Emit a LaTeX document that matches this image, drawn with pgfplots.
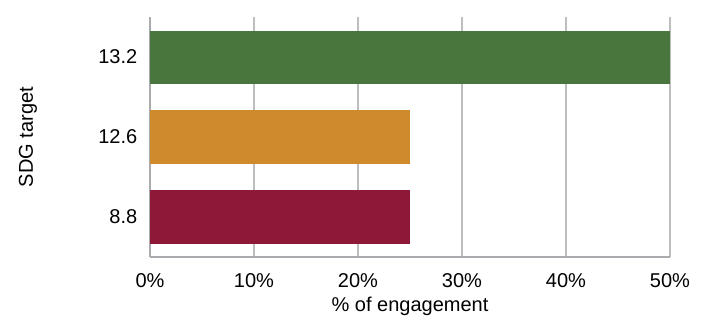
\documentclass[border=0pt]{standalone}
\usepackage{fontspec}
\setmainfont{Liberation Sans}
\usepackage{pgfplots}
\pgfplotsset{compat=1.18}
\definecolor{cgreen}{RGB}{72,118,60}
\definecolor{corange}{RGB}{207,139,43}
\definecolor{cmaroon}{RGB}{141,24,55}
\definecolor{cgrid}{RGB}{190,190,190}
\definecolor{caxis}{RGB}{170,170,175}
\begin{document}
\begin{tikzpicture}[x=1pt,y=1pt]
\begin{axis}[
  name=ax,
  scale only axis,
  width=390pt, height=180pt,
  xmin=0, xmax=50,
  ymin=-0.5, ymax=2.5,
  xbar, bar shift=0pt, bar width=39.75pt,
  axis x line*=bottom, axis y line*=left,
  axis line style={caxis, line width=0.9pt, -},
  xmajorgrids, grid style={cgrid, line width=0.8pt},
  major tick length=0pt,
  xtick={0,10,20,30,40,50},
  xticklabels={0\%,10\%,20\%,30\%,40\%,50\%},
  ytick={0,1,2},
  yticklabels={8.8,12.6,13.2},
  /pgf/number format/assume math mode=true,
  tick label style={font=\fontsize{15}{17}\selectfont},
  xticklabel style={yshift=-9pt},
  yticklabel style={xshift=-6pt},
  label style={font=\fontsize{15}{17}\selectfont},
  xlabel={\% of engagement},
  ylabel={SDG target},
  xlabel style={at={(axis description cs:0.5,0)}, anchor=center, yshift=-37pt},
  ylabel style={at={(axis description cs:0,0.5)}, anchor=center, rotate=0, xshift=0pt, yshift=91.5pt},
]
\addplot[fill=cmaroon, draw=none] coordinates {(25,0)};
\addplot[fill=corange, draw=none] coordinates {(25,1)};
\addplot[fill=cgreen, draw=none] coordinates {(50,2)};
\end{axis}
\path[use as bounding box] ([shift={(-112.5pt,-43.5pt)}]ax.south west) rectangle ([shift={(27.75pt,12.75pt)}]ax.north east);
\end{tikzpicture}
\end{document}
